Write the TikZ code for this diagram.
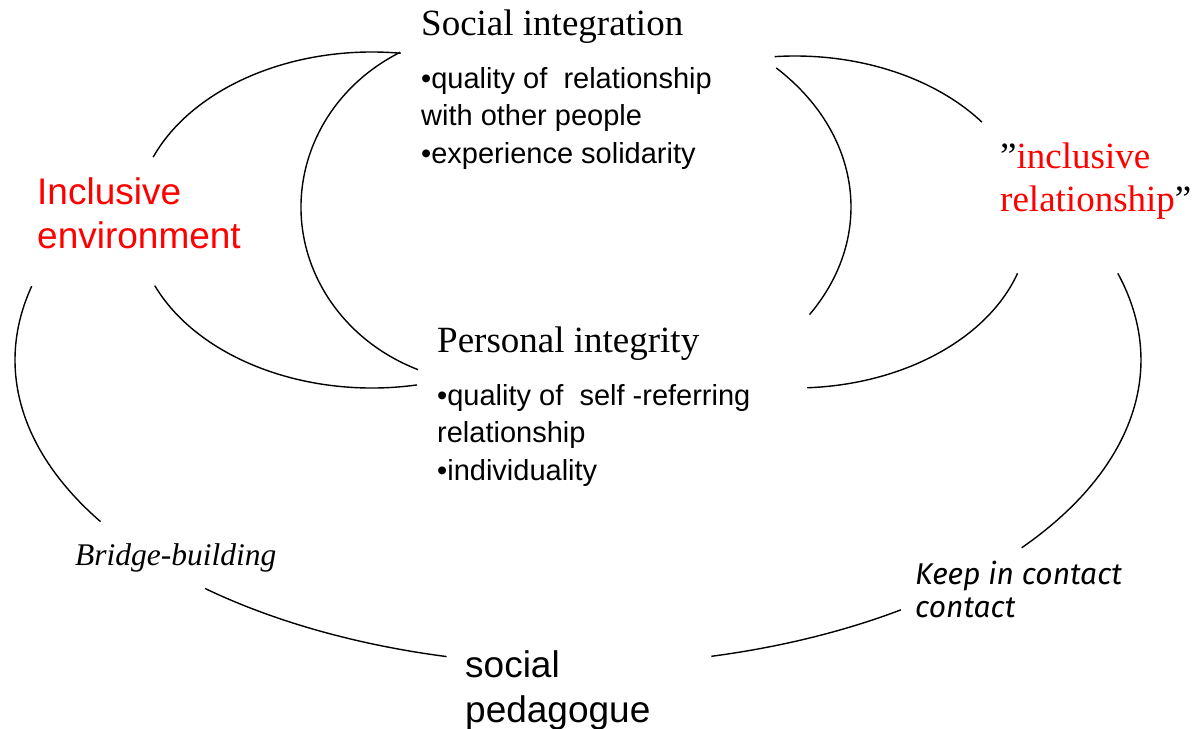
\documentclass[tikz,border=0pt]{standalone}
\usepackage{fontspec}
\setmainfont{Liberation Serif}
\setsansfont{Liberation Sans}
\newfontfamily\handfont{Fira Sans}

\begin{document}
\begin{tikzpicture}[x=1pt,y=1pt,
    ring/.style={draw,line width=1.4pt},
    txt/.style={inner sep=0,anchor=base west,align=left},
    head/.style={txt,font=\fontsize{37}{43}\selectfont},
    point/.style={txt,font=\sffamily\fontsize{29}{37.5}\selectfont},
    big/.style={txt,font=\sffamily\fontsize{37}{44}\selectfont}]
    \useasboundingbox (0,0) rectangle (1198,-728);

    \node[head] (social) at (421,-35) {Social integration};
    \node[point] (socialpts) at (421,-163) {•quality of\ \ relationship\\with other people\\•experience solidarity};
    \node[head] (personal) at (437,-352) {Personal integrity};
    \node[point] (personalpts) at (437,-480) {•quality of\ \ self -referring\\relationship\\•individuality};
    \node[big,red] (environment) at (37,-248) {Inclusive\\environment};
    \node[head] (relation) at (1000,-211) {”\textcolor{red}{inclusive}\\\textcolor{red}{relationship}”};
    \node[txt,font=\itshape\fontsize{31.5}{36}\selectfont] (bridge) at (75,-565) {Bridge-building};
    \node[txt,font=\handfont\itshape\fontsize{30}{33}\selectfont] (contact) at (915,-617) {Keep in contact\\contact};
    \node[big,font=\sffamily\fontsize{37}{45}\selectfont] (pedagogue) at (465,-722) {social\\pedagogue};

    \draw[ring] (372,-220) ++(158:236 and 168) arc[start angle=158,end angle=83,x radius=236,y radius=168];
    \draw[ring] (372,-220) ++(203:236 and 168) arc[start angle=203,end angle=281,x radius=236,y radius=168];
    \draw[ring] (490.5,-207) ++(118.5:189.5 and 176) arc[start angle=118.5,end angle=247.5,x radius=189.5,y radius=176];
    \draw[ring] (795,-222) ++(95:234 and 166) arc[start angle=95,end angle=37,x radius=234,y radius=166];
    \draw[ring] (795,-222) ++(342:234 and 166) arc[start angle=342,end angle=273,x radius=234,y radius=166];
    \draw[ring] (601,-207) ++(45.5:250 and 195) arc[start angle=45.5,end angle=-33.5,x radius=250,y radius=195];
    \draw[ring] (578,-360) ++(166:563 and 305) arc[start angle=166,end angle=212,x radius=563,y radius=305];
    \draw[ring] (578,-360) ++(228.5:563 and 305) arc[start angle=228.5,end angle=256.5,x radius=563,y radius=305];
    \draw[ring] (578,-360) ++(283.7:563 and 305) arc[start angle=283.7,end angle=305,x radius=563,y radius=305];
    \draw[ring] (578,-360) ++(322:563 and 305) arc[start angle=322,end angle=376.5,x radius=563,y radius=305];
  \end{tikzpicture}
\end{document}
